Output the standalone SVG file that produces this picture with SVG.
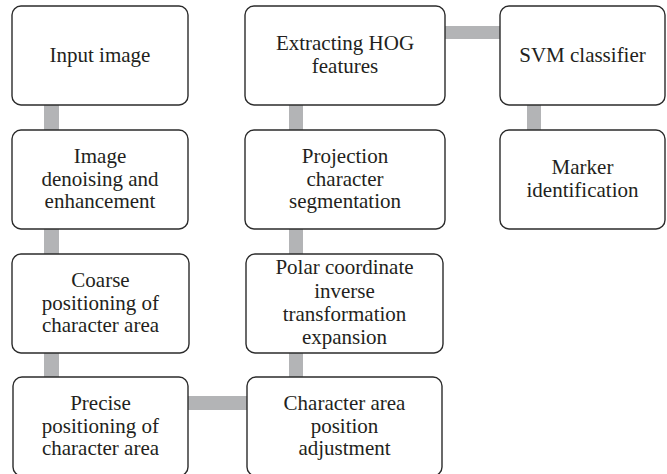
<svg xmlns="http://www.w3.org/2000/svg" width="667" height="474" viewBox="0 0 667 474">
<style>
.box{fill:#fff;stroke:#2b2b2b;stroke-width:1.4}
.t{font-family:"Liberation Serif","Times New Roman",serif;font-size:21px;fill:#231f20;text-anchor:middle}
.c{fill:#b3b4b6}
</style>
<rect width="667" height="474" fill="#fff"/>
<g id="connectors">
<rect class="c" x="44" y="104" width="15" height="27"/>
<rect class="c" x="44" y="228" width="15" height="27"/>
<rect class="c" x="44" y="352" width="15" height="26"/>
<rect class="c" x="289" y="104" width="14" height="27"/>
<rect class="c" x="289" y="228" width="14" height="27"/>
<rect class="c" x="289" y="352" width="14" height="26"/>
<rect class="c" x="527" y="104" width="14" height="27"/>
<rect class="c" x="444" y="26" width="57" height="13"/>
<rect class="c" x="187" y="396" width="61" height="14"/>
</g>
<g id="n1"><rect class="box" x="12" y="6" width="176" height="99" rx="9"/><text class="t" x="100" y="62">Input image</text></g>
<g id="n2"><rect class="box" x="12" y="130" width="176" height="99" rx="9"/><text class="t" x="100" y="163">Image</text><text class="t" x="100" y="185.5">denoising and</text><text class="t" x="100" y="208">enhancement</text></g>
<g id="n3"><rect class="box" x="12" y="254" width="177" height="99" rx="9"/><text class="t" x="100.5" y="287">Coarse</text><text class="t" x="100.5" y="309.5">positioning of</text><text class="t" x="100.5" y="332">character area</text></g>
<g id="n4"><rect class="box" x="13" y="377" width="175" height="99" rx="9"/><text class="t" x="100.5" y="410">Precise</text><text class="t" x="100.5" y="432.5">positioning of</text><text class="t" x="100.5" y="455">character area</text></g>
<g id="n5"><rect class="box" x="247" y="377" width="195" height="99" rx="9"/><text class="t" x="344.5" y="410">Character area</text><text class="t" x="344.5" y="432.5">position</text><text class="t" x="344.5" y="455">adjustment</text></g>
<g id="n6"><rect class="box" x="246" y="254" width="197" height="99" rx="9"/><text class="t" x="344.5" y="274">Polar coordinate</text><text class="t" x="344.5" y="297.5">inverse</text><text class="t" x="344.5" y="321">transformation</text><text class="t" x="344.5" y="344">expansion</text></g>
<g id="n7"><rect class="box" x="245" y="130" width="200" height="99" rx="9"/><text class="t" x="345" y="163">Projection</text><text class="t" x="345" y="185.5">character</text><text class="t" x="345" y="208">segmentation</text></g>
<g id="n8"><rect class="box" x="245" y="6" width="200" height="99" rx="9"/><text class="t" x="345" y="50">Extracting HOG</text><text class="t" x="345" y="72.5">features</text></g>
<g id="n9"><rect class="box" x="500" y="6" width="165" height="99" rx="9"/><text class="t" x="582.5" y="62">SVM classifier</text></g>
<g id="n10"><rect class="box" x="500" y="130" width="165" height="99" rx="9"/><text class="t" x="582.5" y="174">Marker</text><text class="t" x="582.5" y="196.5">identification</text></g>
</svg>
